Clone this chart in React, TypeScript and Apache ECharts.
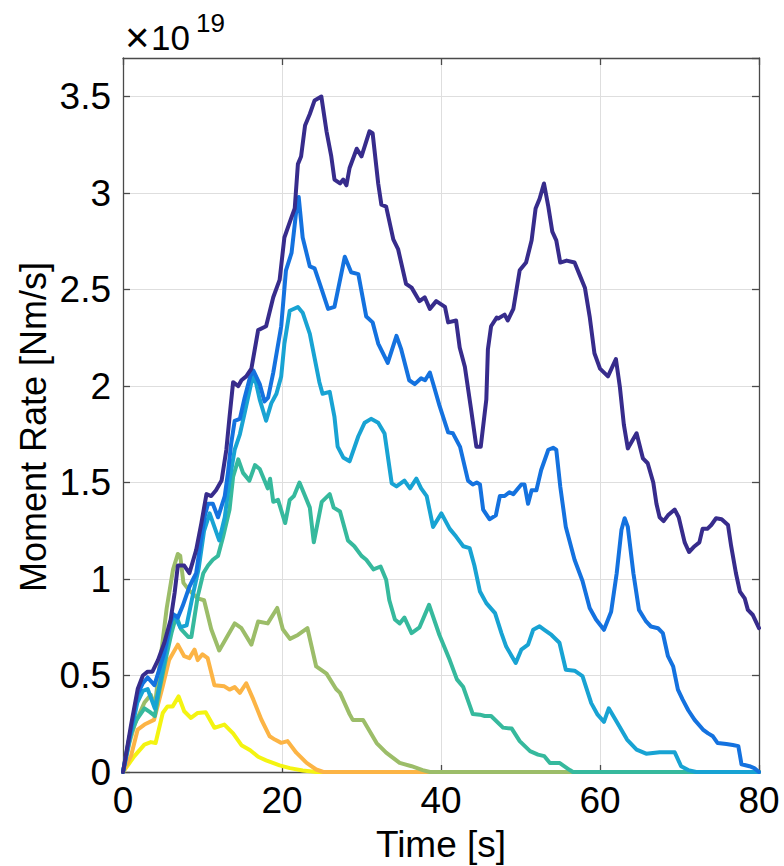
import React, { useEffect, useRef } from "react";
import * as echarts from "echarts";

// Values in units of 1e19 Nm/s, time in seconds
const timeTicks = [0, 20, 40, 60, 80];
const rateTicks = [0, 0.5, 1, 1.5, 2, 2.5, 3, 3.5];

const seriesNavy: [number, number][] = [
  [0, 0], [1.0, 0.24], [1.85, 0.43], [2.5, 0.5], [3.1, 0.52], [3.7, 0.52], [4.4, 0.58], [5.2, 0.67],
  [6.0, 0.79], [6.5, 0.93], [6.9, 1.07], [7.7, 1.07], [8.35, 1.03], [9.2, 1.15], [9.86, 1.29], [10.5, 1.44],
  [11.1, 1.43], [11.7, 1.46], [12.4, 1.51], [13.0, 1.67], [13.4, 1.84], [13.85, 2.02], [14.5, 2.0], [14.9, 2.03],
  [15.5, 2.05], [16.15, 2.09], [17.0, 2.29], [18.0, 2.31], [18.9, 2.46], [19.7, 2.55], [20.3, 2.77], [21.2, 2.875],
  [21.6, 2.92], [22.0, 3.15], [22.4, 3.19], [22.9, 3.35], [23.5, 3.41], [24.1, 3.48], [24.95, 3.5], [25.6, 3.32],
  [26.2, 3.19], [26.6, 3.07], [27.3, 3.05], [27.7, 3.07], [28.1, 3.04], [28.5, 3.13], [29.4, 3.23], [30.0, 3.19],
  [31.0, 3.32], [31.4, 3.31], [32.1, 3.05], [32.5, 2.94], [33.1, 2.93], [34.0, 2.76], [34.6, 2.71], [35.6, 2.53],
  [36.3, 2.51], [37.3, 2.44], [37.95, 2.46], [38.6, 2.4], [39.4, 2.44], [40.5, 2.41], [40.9, 2.33], [41.9, 2.34],
  [42.35, 2.2], [43.0, 2.1], [43.8, 1.875], [44.45, 1.685], [45.0, 1.685], [45.7, 1.93], [45.9, 2.19], [46.3, 2.31],
  [47.0, 2.355], [47.2, 2.35], [48.0, 2.37], [48.4, 2.34], [49.1, 2.4], [49.5, 2.5], [49.9, 2.6], [50.7, 2.64],
  [51.4, 2.755], [51.9, 2.92], [52.4, 2.97], [52.95, 3.05], [53.5, 2.93], [54.0, 2.8], [54.5, 2.755], [55.0, 2.64],
  [55.8, 2.65], [56.8, 2.64], [57.4, 2.58], [58.1, 2.51], [58.7, 2.36], [59.3, 2.17], [60.0, 2.09], [61.0, 2.05],
  [62.0, 2.14], [62.5, 1.995], [63.0, 1.8], [63.5, 1.677], [64.6, 1.755], [65.4, 1.625], [66.0, 1.6], [66.7, 1.5],
  [67.1, 1.39], [67.5, 1.32], [68.0, 1.3], [68.55, 1.33], [69.4, 1.36], [69.9, 1.32], [70.65, 1.19], [71.2, 1.14],
  [71.9, 1.17], [72.5, 1.19], [72.9, 1.26], [73.5, 1.26], [74.0, 1.28], [74.6, 1.315], [75.3, 1.31], [76.1, 1.28],
  [76.5, 1.17], [77.1, 1.03], [77.6, 0.935], [78.2, 0.9], [78.6, 0.84], [79.2, 0.815], [80.0, 0.746],
];

const seriesBlue: [number, number][] = [
  [0, 0], [1.0, 0.22], [1.8, 0.4], [2.5, 0.46], [3.1, 0.49], [3.95, 0.45], [4.4, 0.51], [5.2, 0.62],
  [6.25, 0.82], [6.9, 0.8], [7.5, 0.86], [8.35, 0.96], [9.2, 1.03], [9.8, 1.2], [10.3, 1.33], [10.7, 1.39],
  [11.3, 1.39], [11.95, 1.32], [12.8, 1.43], [13.2, 1.55], [13.6, 1.7], [14.05, 1.82], [14.7, 1.83], [15.3, 1.94],
  [16.0, 2.05], [16.4, 2.08], [17.2, 2.01], [17.8, 1.92], [18.25, 1.94], [18.9, 2.07], [19.9, 2.31], [20.5, 2.6],
  [21.2, 2.69], [21.8, 2.91], [22.1, 2.98], [22.6, 2.77], [23.5, 2.62], [24.1, 2.61], [25.0, 2.5], [25.8, 2.4],
  [26.6, 2.41], [27.9, 2.67], [28.7, 2.59], [29.6, 2.58], [30.6, 2.36], [31.4, 2.33], [32.1, 2.22], [33.3, 2.12],
  [34.4, 2.26], [35.0, 2.19], [36.0, 2.03], [36.7, 2.01], [37.5, 2.04], [38.0, 2.03], [38.6, 2.07], [39.1, 2.0],
  [39.8, 1.9], [40.9, 1.76], [41.5, 1.755], [42.4, 1.685], [43.4, 1.51], [44.0, 1.49], [44.5, 1.5], [44.9, 1.49],
  [45.3, 1.36], [46.1, 1.31], [46.9, 1.33], [47.4, 1.43], [48.0, 1.43], [48.6, 1.45], [49.1, 1.44], [50.1, 1.49],
  [50.5, 1.49], [50.95, 1.39], [51.4, 1.46], [52.0, 1.46], [52.6, 1.565], [53.5, 1.67], [54.1, 1.68], [54.5, 1.67],
  [55.0, 1.48], [55.7, 1.27], [56.8, 1.1], [57.8, 0.99], [58.7, 0.85], [59.5, 0.79], [60.5, 0.737], [61.4, 0.83],
  [62.1, 1.03], [62.7, 1.255], [63.1, 1.315], [63.5, 1.27], [64.2, 1.03], [64.9, 0.84], [65.8, 0.78], [66.4, 0.754],
  [67.3, 0.745], [67.9, 0.72], [68.55, 0.6], [69.2, 0.547], [69.8, 0.427], [70.4, 0.375], [71.1, 0.32], [71.9, 0.27],
  [72.95, 0.22], [73.6, 0.2], [74.2, 0.185], [74.8, 0.15], [75.9, 0.145], [76.7, 0.14], [77.4, 0.134], [77.8, 0.04],
  [78.8, 0.03], [79.4, 0.02], [80, 0],
];

const seriesCyan: [number, number][] = [
  [0, 0], [1.0, 0.2], [1.8, 0.36], [2.5, 0.42], [3.1, 0.43], [4.0, 0.33], [4.6, 0.45], [5.3, 0.6],
  [6.0, 0.78], [6.5, 0.81], [7.2, 0.75], [8.0, 0.76], [8.8, 0.92], [9.5, 1.05], [10.2, 1.25], [10.9, 1.34],
  [11.5, 1.27], [12.1, 1.2], [12.8, 1.32], [13.4, 1.51], [14.05, 1.67], [14.7, 1.75], [15.3, 1.86], [16.1, 2.01],
  [16.5, 2.06], [17.2, 1.93], [18.0, 1.82], [18.65, 1.91], [19.3, 1.96], [19.9, 2.05], [20.3, 2.22], [20.97, 2.39],
  [22.0, 2.41], [22.6, 2.38], [23.5, 2.27], [24.7, 2.02], [25.1, 1.96], [26.0, 1.97], [26.6, 1.84], [27.0, 1.686],
  [27.7, 1.63], [28.5, 1.61], [29.6, 1.74], [30.4, 1.81], [31.2, 1.83], [32.1, 1.81], [32.9, 1.754], [33.8, 1.496],
  [34.4, 1.48], [35.4, 1.51], [36.1, 1.47], [36.9, 1.52], [37.5, 1.47], [38.2, 1.43], [39.0, 1.27], [40.05, 1.34],
  [41.1, 1.26], [41.9, 1.22], [42.8, 1.17], [43.6, 1.16], [44.2, 1.07], [44.9, 0.935], [45.7, 0.875], [46.8, 0.823],
  [47.6, 0.72], [48.2, 0.65], [49.4, 0.565], [50.1, 0.634], [50.95, 0.66], [51.6, 0.737], [52.4, 0.755], [53.0, 0.737],
  [53.9, 0.71], [54.9, 0.67], [55.7, 0.53], [56.8, 0.525], [57.8, 0.497], [58.9, 0.357], [59.7, 0.297], [60.5, 0.26],
  [61.1, 0.33], [62.1, 0.26], [63.4, 0.168], [64.6, 0.116], [65.8, 0.095], [67.5, 0.102], [69.4, 0.102], [70.2, 0.03],
  [71.1, 0.01], [72.1, 0], [80, 0],
];

const seriesTeal: [number, number][] = [
  [0, 0], [0.8, 0.18], [1.7, 0.27], [2.7, 0.33], [3.4, 0.31], [4.0, 0.29], [4.6, 0.43], [5.5, 0.61],
  [6.1, 0.72], [6.7, 0.81], [7.3, 0.74], [8.2, 0.7], [8.6, 0.7], [9.4, 0.91], [10.1, 1.03], [10.7, 1.07],
  [11.3, 1.1], [11.95, 1.12], [12.6, 1.22], [13.4, 1.36], [13.85, 1.53], [14.5, 1.62], [15.1, 1.55], [15.9, 1.51],
  [16.6, 1.59], [17.2, 1.57], [17.8, 1.51], [18.2, 1.47], [18.5, 1.52], [18.9, 1.4], [19.5, 1.41], [20.4, 1.29],
  [20.97, 1.41], [21.5, 1.43], [22.2, 1.5], [22.9, 1.43], [23.5, 1.37], [24.0, 1.19], [25.0, 1.4], [26.0, 1.44],
  [26.5, 1.37], [27.3, 1.35], [28.3, 1.2], [29.1, 1.17], [30.0, 1.12], [30.6, 1.1], [31.5, 1.05], [32.4, 1.065],
  [33.1, 0.996], [33.5, 0.89], [34.2, 0.79], [34.8, 0.77], [35.4, 0.8], [36.3, 0.72], [37.3, 0.75], [38.5, 0.866],
  [39.8, 0.71], [41.1, 0.58], [42.0, 0.48], [42.8, 0.44], [44.0, 0.3], [44.9, 0.297], [45.5, 0.29], [46.3, 0.29],
  [47.8, 0.23], [48.9, 0.225], [49.9, 0.16], [51.2, 0.108], [52.2, 0.09], [53.0, 0.082], [53.7, 0.047], [54.9, 0.047],
  [56.2, 0.01], [56.6, 0], [80, 0],
];

const seriesOlive: [number, number][] = [
  [0, 0], [0.8, 0.15], [1.5, 0.25], [2.7, 0.36], [3.5, 0.4], [4.0, 0.34], [4.6, 0.55], [5.5, 0.85],
  [6.3, 1.05], [6.9, 1.13], [7.2, 1.12], [7.6, 0.98], [8.35, 0.94], [9.4, 0.9], [10.2, 0.89], [11.1, 0.74],
  [12.1, 0.63], [13.0, 0.694], [14.05, 0.77], [14.9, 0.745], [16.15, 0.66], [17.0, 0.78], [18.2, 0.77], [19.4, 0.85],
  [20.1, 0.74], [21.0, 0.69], [22.0, 0.71], [23.2, 0.745], [24.3, 0.547], [25.6, 0.51], [26.8, 0.43], [27.3, 0.41],
  [28.5, 0.3], [28.9, 0.27], [30.2, 0.27], [31.9, 0.15], [33.1, 0.1], [34.8, 0.047], [36.3, 0.03], [37.7, 0.01],
  [38.6, 0], [80, 0],
];

const seriesOrange: [number, number][] = [
  [0, 0], [1.0, 0.082], [1.85, 0.22], [2.7, 0.246], [3.9, 0.27], [5.0, 0.444], [5.8, 0.58], [6.9, 0.66],
  [7.7, 0.6], [8.35, 0.59], [9.0, 0.634], [9.4, 0.58], [10.0, 0.61], [10.65, 0.59], [11.5, 0.45], [12.75, 0.444],
  [13.4, 0.427], [14.05, 0.44], [14.7, 0.41], [15.5, 0.46], [16.4, 0.375], [17.4, 0.272], [18.45, 0.185], [19.1, 0.168],
  [19.9, 0.151], [20.7, 0.16], [21.8, 0.1], [23.1, 0.047], [24.3, 0.013], [25.2, 0], [80, 0],
];

const seriesYellow: [number, number][] = [
  [0, 0], [1.43, 0.082], [2.69, 0.142], [3.5, 0.155], [4.1, 0.15], [5.0, 0.306], [5.6, 0.34], [6.25, 0.34],
  [7.0, 0.392], [7.7, 0.315], [8.55, 0.28], [9.4, 0.306], [10.4, 0.31], [11.5, 0.229], [12.75, 0.246], [13.85, 0.2],
  [14.9, 0.139], [16.0, 0.113], [17.0, 0.079], [18.0, 0.06], [19.7, 0.034], [21.0, 0.02], [22.6, 0.008], [24.3, 0],
  [80, 0],
];

// drawn bottom-to-top
const seriesList = [
  { name: "s7", data: seriesYellow, color: "#f4f411" },
  { name: "s6", data: seriesOrange, color: "#fcb445" },
  { name: "s5", data: seriesOlive, color: "#9cbd69" },
  { name: "s4", data: seriesTeal, color: "#36b99d" },
  { name: "s3", data: seriesCyan, color: "#18a3d3" },
  { name: "s2", data: seriesBlue, color: "#1472df" },
  { name: "s1", data: seriesNavy, color: "#372c8c" },
];

const FONT = "'Liberation Sans', Arial, Helvetica, sans-serif";
const AXIS_COLOR = "#4a4a4a";

export default function App() {
  const ref = useRef<HTMLDivElement>(null);
  useEffect(() => {
    if (!ref.current) return;
    const chart = echarts.init(ref.current, undefined, { renderer: "svg" });
    const baseX = {
      type: "value" as const,
      min: timeTicks[0],
      max: timeTicks[timeTicks.length - 1],
      interval: 20,
      axisLine: { show: true, onZero: false, lineStyle: { color: AXIS_COLOR, width: 1.3 } },
      axisTick: { show: true, inside: true, length: 7, lineStyle: { color: AXIS_COLOR, width: 1.3 } },
    };
    const baseY = {
      type: "value" as const,
      min: rateTicks[0],
      max: 3.7,
      interval: 0.5,
      axisLine: { show: true, onZero: false, lineStyle: { color: AXIS_COLOR, width: 1.3 } },
      axisTick: { show: true, inside: true, length: 7, lineStyle: { color: AXIS_COLOR, width: 1.3 } },
    };
    chart.setOption({
      animation: false,
      backgroundColor: "#ffffff",
      grid: { left: 123, right: 25, top: 58, bottom: 94, containLabel: false },
      xAxis: [
        {
          ...baseX,
          position: "bottom",
          axisLabel: { fontSize: 37, color: "#000", fontFamily: FONT, margin: 10 },
          splitLine: { show: true, lineStyle: { color: "#dedede", width: 1 } },
        },
        {
          ...baseX,
          position: "top",
          axisLabel: { show: false },
          splitLine: { show: false },
        },
      ],
      yAxis: [
        {
          ...baseY,
          position: "left",
          axisLabel: {
            fontSize: 37,
            color: "#000",
            fontFamily: FONT,
            margin: 12,
            showMaxLabel: false,
            formatter: (v: number) => (rateTicks.some((t) => Math.abs(t - v) < 1e-6) ? String(v) : ""),
          },
          splitLine: { show: true, lineStyle: { color: "#dedede", width: 1 } },
        },
        {
          ...baseY,
          position: "right",
          axisLabel: { show: false },
          splitLine: { show: false },
        },
      ],
      series: seriesList.map((s, i) => ({
        name: s.name,
        type: "line",
        xAxisIndex: 0,
        yAxisIndex: 0,
        data: s.data,
        showSymbol: false,
        symbol: "none",
        clip: false,
        z: 2 + i,
        lineStyle: { color: s.color, width: 4, join: "round", cap: "round" },
        itemStyle: { color: s.color },
      })),
      graphic: [
        {
          type: "text",
          x: 441,
          y: 844,
          style: { text: "Time [s]", fontSize: 37, fontFamily: FONT, fill: "#000", align: "center", verticalAlign: "middle" },
        },
        {
          type: "text",
          x: 33,
          y: 427,
          rotation: Math.PI / 2,
          style: { text: "Moment Rate [Nm/s]", fontSize: 36, fontFamily: FONT, fill: "#000", align: "center", verticalAlign: "middle" },
        },
        {
          type: "text",
          x: 125,
          y: 37,
          style: { text: "×", fontSize: 42, fontFamily: FONT, fill: "#000", align: "left", verticalAlign: "middle" },
        },
        {
          type: "text",
          x: 151,
          y: 37,
          style: { text: "10", fontSize: 35, fontFamily: FONT, fill: "#000", align: "left", verticalAlign: "middle" },
        },
        {
          type: "text",
          x: 196,
          y: 23,
          style: { text: "19", fontSize: 26, fontFamily: FONT, fill: "#000", align: "left", verticalAlign: "middle" },
        },
      ],
    });
    return () => chart.dispose();
  }, []);
  return (
    <div
      ref={ref}
      style={{ position: "fixed", left: 0, top: 0, width: 784, height: 866, background: "#fff" }}
    />
  );
}
